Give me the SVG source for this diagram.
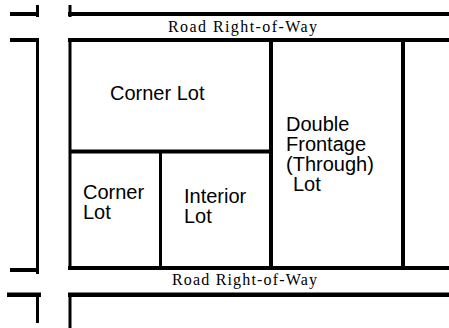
<svg xmlns="http://www.w3.org/2000/svg" width="449" height="328" viewBox="0 0 449 328">
<style>
.ln{fill:#000}
.road{font-family:"Liberation Serif","Times New Roman",serif;font-size:16px;fill:#000}
.lbl{font-family:"Liberation Sans",Arial,sans-serif;font-size:20px;fill:#000}
</style>
<rect width="449" height="328" fill="#fff"/>
<g id="roads">
<rect class="ln" x="10" y="12" width="29" height="4"/>
<rect class="ln" x="68" y="12" width="381" height="4"/>
<rect class="ln" x="10" y="38" width="29" height="4"/>
<rect class="ln" x="68" y="38" width="381" height="4"/>
<rect class="ln" x="68" y="266" width="381" height="4"/>
<rect class="ln" x="10" y="268" width="29" height="4"/>
<rect class="ln" x="7" y="292.5" width="34" height="4.5"/>
<rect class="ln" x="68" y="292.5" width="381" height="4.5"/>
<rect class="ln" x="36" y="5" width="3" height="12"/>
<rect class="ln" x="36" y="38" width="3" height="236"/>
<rect class="ln" x="36" y="293" width="3" height="30"/>
<rect class="ln" x="68.5" y="5" width="3" height="12"/>
<rect class="ln" x="68.5" y="38" width="3" height="232"/>
<rect class="ln" x="68.5" y="293" width="3" height="35"/>
<text class="road" x="168" y="32" textLength="149" lengthAdjust="spacing">Road Right-of-Way</text>
<text class="road" x="172" y="285" textLength="145" lengthAdjust="spacing">Road Right-of-Way</text>
</g>
<g id="lots">
<rect class="ln" x="70" y="149.5" width="203" height="4"/>
<rect class="ln" x="159" y="151" width="3" height="117"/>
<rect class="ln" x="269" y="38" width="4" height="230"/>
<rect class="ln" x="401" y="38" width="4" height="230"/>
</g>
<g id="corner-lot-top">
<text class="lbl" x="110" y="100">Corner Lot</text>
</g>
<g id="corner-lot-bottom">
<text class="lbl" x="83" y="199">Corner</text>
<text class="lbl" x="83" y="219">Lot</text>
</g>
<g id="interior-lot">
<text class="lbl" x="184" y="203">Interior</text>
<text class="lbl" x="184" y="223">Lot</text>
</g>
<g id="through-lot">
<text class="lbl" x="286" y="131">Double</text>
<text class="lbl" x="286" y="151">Frontage</text>
<text class="lbl" x="286" y="171">(Through)</text>
<text class="lbl" x="293" y="191">Lot</text>
</g>
<g id="connectors"/>
</svg>
